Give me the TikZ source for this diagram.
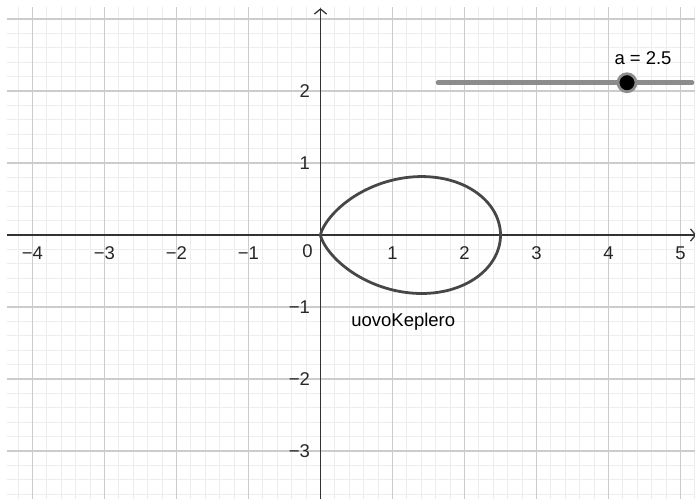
\documentclass[tikz,border=0pt]{standalone}
\usepackage{fontspec}
\setmainfont{Liberation Sans}
\usetikzlibrary{arrows.meta}

\begin{document}
\begin{tikzpicture}[font=\fontsize{7.3}{8.5}\selectfont,
 minor/.style={draw=black!7,line width=0.4pt},
 major/.style={draw=black!20,line width=0.5pt},
 axis/.style={draw=black!80,line width=0.5pt,-{Straight Barb[length=0.7mm,width=1.7mm]}},
 egg/.style={draw=black!72,line width=1.1pt},
 tk/.style={text=black!85,inner sep=0pt},
 slider/.style={draw=black!45,line width=1.8pt,line cap=round},
 knob/.style={circle,fill=black,draw=black!45,line width=1.1pt,inner sep=0pt,minimum size=2.5mm}]
\useasboundingbox (-4.451,-3.667) rectangle (5.201,3.264);
\fill[white] (-4.451,-3.667) rectangle (5.201,3.264);
\draw[minor] (-4.354,-3.667) grid[step=0.2] (5.201,3.167);
\draw[major] (-4.354,-3.667) grid[step=1] (5.201,3.167);
\draw[axis] (-4.354,0) -- (5.22,0);
\draw[axis] (0,-3.667) -- (0,3.15);
\foreach \x in {1,...,5} \node[tk,anchor=north] (x\x) at (\x,-0.16) {\x};
\foreach \x in {1,...,4} \node[tk,anchor=north] (xm\x) at (-\x,-0.16) {−\x};
\foreach \y in {1,2} \node[tk,anchor=east] (y\y) at (-0.14,\y) {\y};
\foreach \y in {1,2,3} \node[tk,anchor=east] (ym\y) at (-0.14,-\y) {−\y};
\node[tk] (o) at (-0.18,-0.22) {0};
\draw[egg] plot[domain=-90:90,samples=181,smooth,variable=\t]
 ({2.5*cos(\t)*cos(\t)*cos(\t)*cos(\t)},{2.5*cos(\t)*cos(\t)*cos(\t)*sin(\t)});
\node (egglab) at (1.15,-1.21) {uovoKeplero};
\coordinate (s0) at (1.632,2.115);
\coordinate (s1) at (5.16,2.115);
\draw[slider] (s0) -- (s1);
\node[knob] (ka) at (4.257,2.115) {};
\node (alab) at (4.479,2.458) {a = 2.5};
\end{tikzpicture}
\end{document}
